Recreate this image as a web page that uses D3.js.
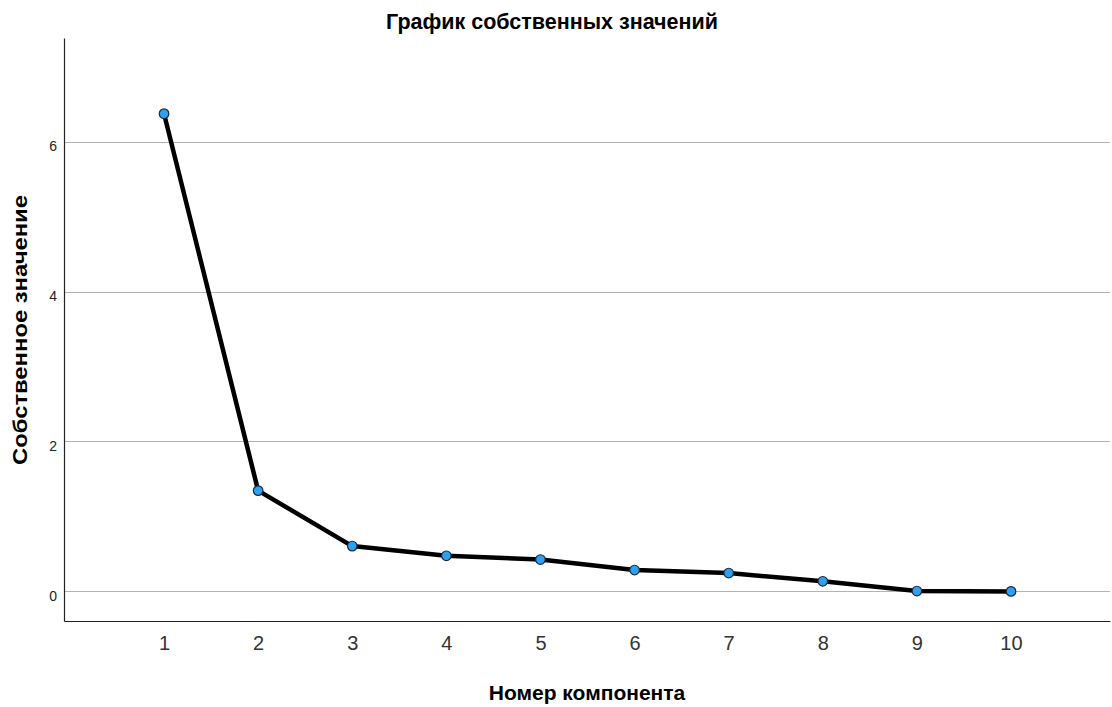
<!DOCTYPE html>
<html><head><meta charset="utf-8">
<script src="https://cdn.jsdelivr.net/npm/d3@7"></script>
<style>body{margin:0;background:#fff;}svg{display:block;}</style>
</head><body>
<svg id="c" width="1112" height="707"></svg>
<script>
const components = [1,2,3,4,5,6,7,8,9,10];
const eigenvalues = [6.38,1.35,0.61,0.48,0.43,0.29,0.25,0.14,0.01,0.005];
const yTicks = [0,2,4,6];
const title = "График собственных значений";
const xTitle = "Номер компонента";
const yTitle = "Собственное значение";

const svg = d3.select("#c");
const L=64, R=1110, T=38, B=621;
const x = d3.scaleLinear().domain([-0.063,11.052]).range([L,R]);
const y = d3.scaleLinear().domain([-0.39,7.39]).range([B,T]);
const FONT = "Liberation Sans, Arial, sans-serif";

// gridlines
svg.append("g").selectAll("line").data(yTicks).join("line")
  .attr("x1",L).attr("x2",R).attr("y1",d=>y(d)).attr("y2",d=>y(d))
  .attr("stroke","#b3b3b3").attr("stroke-width",1).attr("shape-rendering","crispEdges");

// axes
const yAxis = d3.axisLeft(y).tickValues(yTicks).tickSize(0).tickPadding(7);
const gy = svg.append("g").attr("transform",`translate(${L},0)`).call(yAxis);
gy.select(".domain").attr("stroke","#222").attr("stroke-width",1.2);
gy.selectAll("text").attr("font-family",FONT).attr("font-size",14).attr("fill","#222").attr("dy","0.6em");

const xAxis = d3.axisBottom(x).tickValues(components).tickSize(0).tickPadding(15);
const gx = svg.append("g").attr("transform",`translate(0,${B})`).call(xAxis);
gx.select(".domain").attr("stroke","#222").attr("stroke-width",1.2);
gx.selectAll("text").attr("font-family",FONT).attr("font-size",20).attr("fill","#333");

// line
const line = d3.line().x((d,i)=>x(components[i])).y(d=>y(d));
svg.append("path").datum(eigenvalues).attr("d",line)
  .attr("fill","none").attr("stroke","#000").attr("stroke-width",4.5).attr("stroke-linejoin","round");

svg.append("g").selectAll("circle").data(eigenvalues).join("circle")
  .attr("cx",(d,i)=>x(components[i])).attr("cy",d=>y(d)).attr("r",4.8)
  .attr("fill","#2f9ff0").attr("stroke","#1a2a3a").attr("stroke-width",1.2);

// titles
svg.append("text").attr("x",552).attr("y",29).attr("text-anchor","middle")
  .attr("font-family",FONT).attr("font-size",21.5).attr("font-weight","bold").text(title);
svg.append("text").attr("x",(L+R)/2).attr("y",700).attr("text-anchor","middle")
  .attr("font-family",FONT).attr("font-size",21).attr("font-weight","bold").text(xTitle);
svg.append("text").attr("transform",`translate(27,330) rotate(-90)`).attr("text-anchor","middle")
  .attr("font-family",FONT).attr("font-size",21).attr("font-weight","bold")
  .attr("textLength",270).attr("lengthAdjust","spacingAndGlyphs").text(yTitle);
</script>
</body></html>
